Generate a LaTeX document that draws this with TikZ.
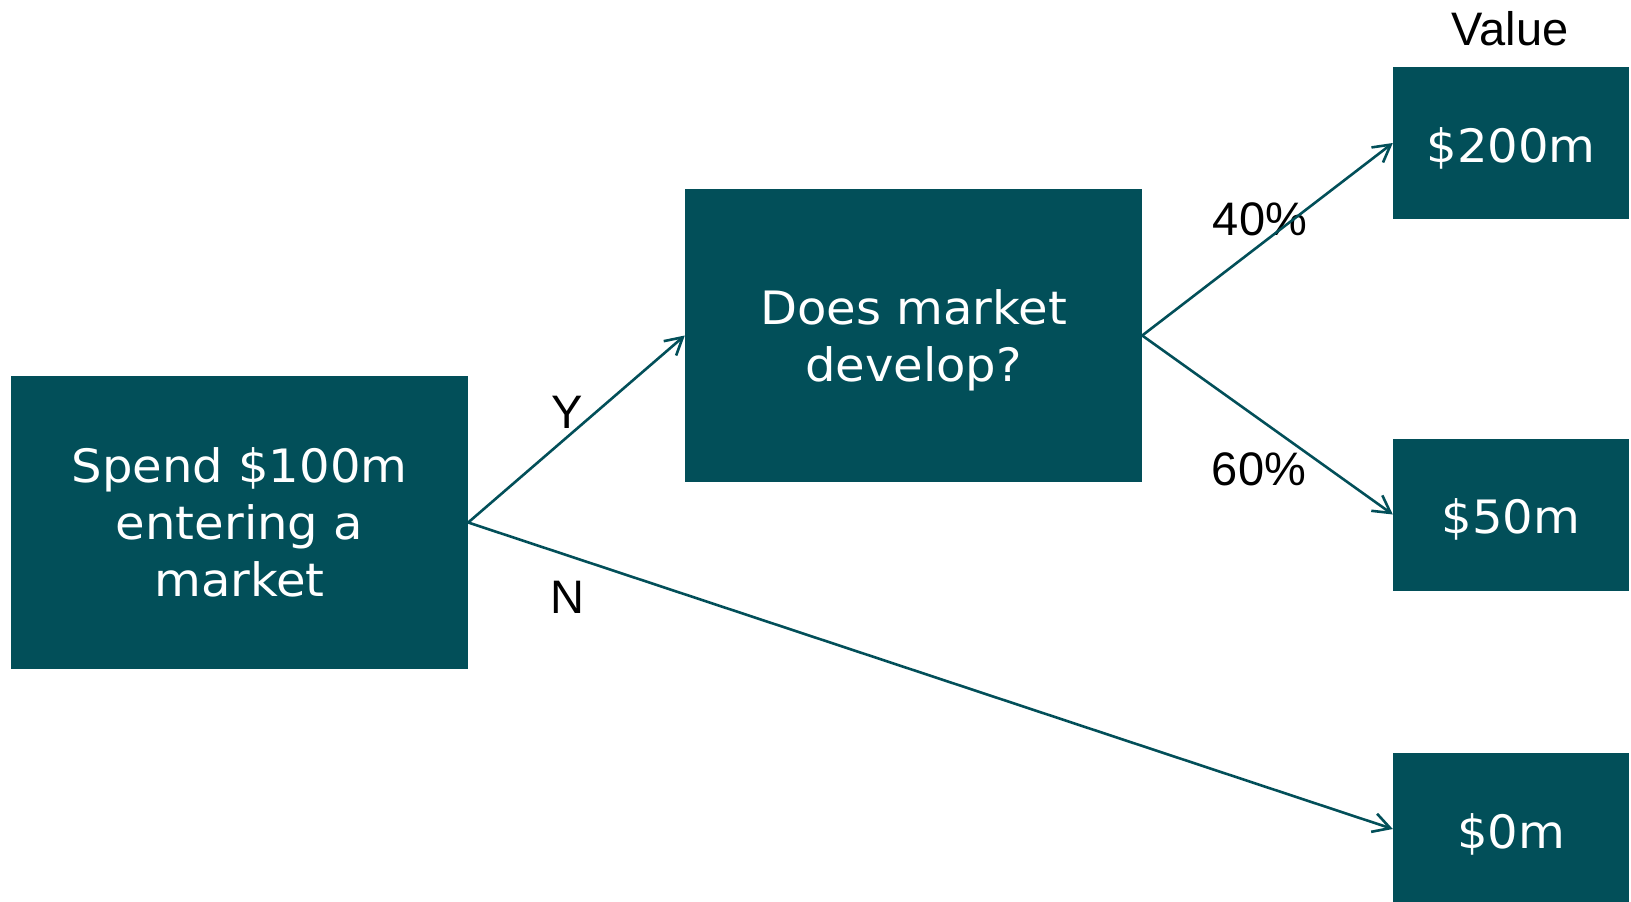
\documentclass[tikz,border=0pt]{standalone}
\usepackage{fontspec}
\setmainfont{Liberation Sans}
\newfontfamily\boxfont[FakeStretch=1.045]{DejaVu Sans}
\usetikzlibrary{arrows.meta}
\definecolor{teal}{RGB}{2,79,89}
\tikzset{
  box/.style={fill=teal, draw=none, inner sep=0pt, text=white, align=center,
    font=\boxfont\fontsize{46}{57}\selectfont},
  bigbox/.style={box, minimum width=457pt, minimum height=293pt},
  valbox/.style={box, minimum width=236pt, minimum height=152pt, text height=38pt, text depth=0pt},
  lbl/.style={anchor=base, inner sep=0pt, font=\fontsize{47}{56}\selectfont},
  conn/.style={draw=teal, line width=2.6pt, -{Straight Barb[length=17pt,width=19pt]}}
}
\begin{document}
\begin{tikzpicture}[x=1pt, y=-1pt]
\useasboundingbox (0,0) rectangle (1631,902);
\node[bigbox] (start) at (239.5,522.5) {Spend \$100m\\entering a\\market};
\node[bigbox] (dev) at (913.5,335.5) {Does market\\develo\smash{p}?};
\node[valbox] (v200) at (1511,143) {\$200m};
\node[valbox] (v50) at (1511,514.5) {\$50m};
\node[valbox] (v0) at (1511,829) {\$0m};
\node[lbl] (value) at (1510,45) {Value};
\node[lbl] (y) at (567,428) {Y};
\node[lbl] (n) at (567,613) {N};
\node[lbl] (p40) at (1260,235) {40\%};
\node[lbl] (p60) at (1259,485) {60\%};
\draw[conn] (start.east) -- (dev.west);
\draw[conn] (start.east) -- (v0.west);
\draw[conn] (dev.east) -- (v200.west);
\draw[conn] (dev.east) -- (v50.west);
\end{tikzpicture}
\end{document}
